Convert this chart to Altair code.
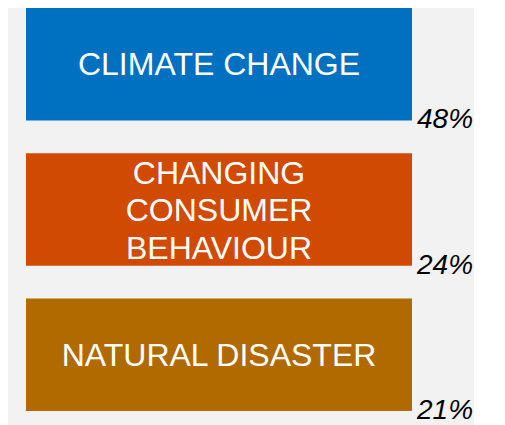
import altair as alt
import pandas as pd

categories = ["CLIMATE CHANGE", "CHANGING\nCONSUMER\nBEHAVIOUR", "NATURAL DISASTER"]
shares = [48, 24, 21]
colors = ["#0070C0", "#D04A02", "#B06A00"]

df = pd.DataFrame({"cat": categories, "share": shares, "color": colors})
df["label"] = df["share"].astype(str) + "%"

yenc = alt.Y("cat:N", sort=categories, axis=None,
             scale=alt.Scale(paddingInner=0.226, paddingOuter=0))

base = alt.Chart(df)

bars = base.mark_bar().encode(
    y=yenc,
    x=alt.value(18),
    x2=alt.value(404),
    color=alt.Color("color:N", scale=None),
)

text_style = dict(font="Liberation Sans", fontSize=32, color="white",
                  lineBreak="\n", lineHeight=37.5, align="center",
                  baseline="middle")

names_single = base.transform_filter(
    "indexof(datum.cat, '\\n') < 0"
).mark_text(dy=1, **text_style).encode(y=yenc, x=alt.value(211), text="cat:N")

names_multi = base.transform_filter(
    "indexof(datum.cat, '\\n') >= 0"
).mark_text(dy=-36, **text_style).encode(y=yenc, x=alt.value(211), text="cat:N")

pcts = base.mark_text(
    font="Liberation Sans", fontSize=28, fontStyle="italic", color="black",
    align="left", baseline="alphabetic", dy=64,
).encode(y=yenc, x=alt.value(409), text="label:N")

chart = (bars + names_single + names_multi + pcts).properties(
    width=465, height=403, background="#F2F2F2", padding=0
).configure_view(stroke=None)

chart.save("out.html", embed_options={"renderer": "svg", "actions": False})
